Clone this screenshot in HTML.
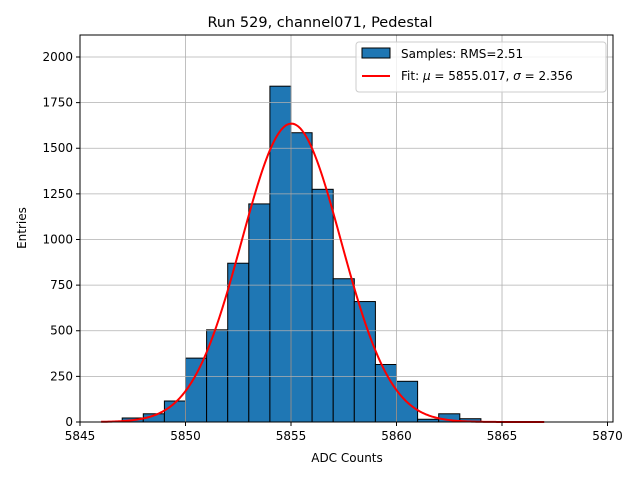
<!DOCTYPE html>
<html><head><meta charset="utf-8"><style>
body{margin:0;background:#fff;}
svg text{font-family:"DejaVu Sans","Liberation Sans",sans-serif;fill:#000;}
</style></head><body>
<svg id="chart" width="640" height="480" xmlns="http://www.w3.org/2000/svg">
<rect width="640" height="480" fill="#fff"/>
<g id="bars"></g>
<g id="grid"></g>
<g id="fit"></g>
<rect x="80" y="35" width="533" height="387" fill="none" stroke="#000" stroke-width="1"/>
<g id="ticks"></g>
<text x="320" y="27" font-size="14.5" text-anchor="middle">Run 529, channel071, Pedestal</text>
<text x="347" y="462" font-size="12" text-anchor="middle">ADC Counts</text>
<text x="26" y="228" font-size="12" text-anchor="middle" transform="rotate(-90 26 228)">Entries</text>
<g>
<rect x="356" y="42" width="250" height="50" rx="3" fill="#fff" fill-opacity="0.8" stroke="#ccc"/>
<rect x="362" y="48" width="28" height="10" fill="#1f77b4" stroke="#000"/>
<text x="401" y="58" font-size="12">Samples: RMS=2.51</text>
<line x1="362" y1="76" x2="390" y2="76" stroke="red" stroke-width="2"/>
<text x="401" y="80" font-size="12">Fit: <tspan font-style="italic">μ</tspan> = 5855.017, <tspan font-style="italic">σ</tspan> = 2.356</text>
</g>
</svg>
<script>
const binStarts=[5847,5848,5849,5850,5851,5852,5853,5854,5855,5856,5857,5858,5859,5860,5861,5862,5863];
const counts=[22,45,115,350,505,870,1195,1840,1585,1275,785,660,315,223,15,45,18];
const fitMu=5855.017, fitSigma=2.356, fitPeak=1635;
const fitRange=[5846,5867];
const xTicks=[5845,5850,5855,5860,5865,5870];
const yTicks=[0,250,500,750,1000,1250,1500,1750,2000];
const NS="http://www.w3.org/2000/svg";
const X0=80,X1=613,Y0=422,Y1=35;
const xmin=5845,xmax=5870.26,ymin=0,ymax=2120.5;
const sx=v=>X0+(v-xmin)/(xmax-xmin)*(X1-X0);
const sy=v=>Y0-(v-ymin)/(ymax-ymin)*(Y0-Y1);
function mk(tag,attrs,parent){const e=document.createElementNS(NS,tag);for(const k in attrs)e.setAttribute(k,attrs[k]);parent.appendChild(e);return e;}
const grid=document.getElementById('grid'),bars=document.getElementById('bars'),fit=document.getElementById('fit'),ticks=document.getElementById('ticks');
xTicks.forEach(t=>{const x=sx(t);
 const g=mk('line',{x1:x,x2:x,y1:Y1,y2:Y0,stroke:'#b0b0b0','stroke-width':0.8},grid);
 
 const l=mk('line',{x1:x,x2:x,y1:Y0,y2:Y0+4,stroke:'#000'},ticks);
 
 const tx=mk('text',{x:x,y:Y0+18,'font-size':12,'text-anchor':'middle'},ticks);tx.textContent=t;
 });
yTicks.forEach(t=>{const y=sy(t);
 const g=mk('line',{x1:X0,x2:X1,y1:y,y2:y,stroke:'#b0b0b0','stroke-width':0.8},grid);
 
 const l=mk('line',{x1:X0-4,x2:X0,y1:y,y2:y,stroke:'#000'},ticks);
 
 const tx=mk('text',{x:X0-7,y:y+4,'font-size':12,'text-anchor':'end'},ticks);tx.textContent=t;
 });
binStarts.forEach((b,i)=>{const x=sx(b),w=sx(b+1)-x,y=sy(counts[i]);
 const r=mk('rect',{x:x,y:y,width:w,height:Y0-y,fill:'#1f77b4',stroke:'#000','stroke-width':1},bars);
 });
let d='';for(let i=0;i<=300;i++){const v=fitRange[0]+(fitRange[1]-fitRange[0])*i/300;
 const c=fitPeak*Math.exp(-0.5*((v-fitMu)/fitSigma)**2);d+=(i?'L':'M')+sx(v).toFixed(2)+','+sy(c).toFixed(2);}
const p=mk('path',{d:d,fill:'none',stroke:'red','stroke-width':2},fit);

</script>
</body></html>
